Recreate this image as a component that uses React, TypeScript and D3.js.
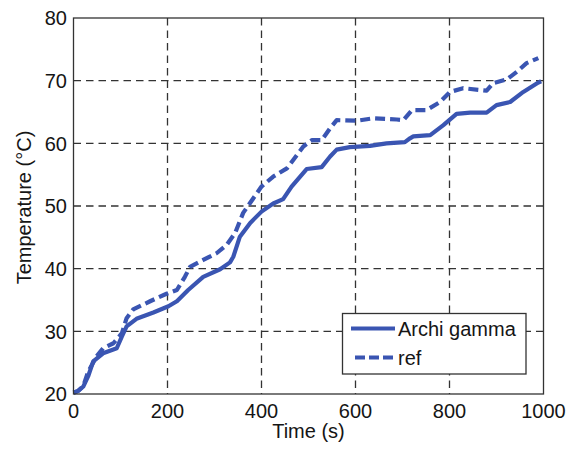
import React from "react";
import * as d3 from "d3";

const xTicks = [0, 200, 400, 600, 800, 1000];
const yTicks = [20, 30, 40, 50, 60, 70, 80];
const seriesNames = ["Archi gamma", "ref"];

const archiTime = [0, 10, 21, 31, 42, 63, 92, 103, 113, 134, 170, 202, 220, 244, 276, 312, 333, 340, 354, 376, 400, 425, 446, 464, 496, 528, 546, 560, 588, 631, 666, 705, 716, 723, 759, 787, 815, 844, 879, 900, 929, 957, 989, 995];
const archiTemp = [20.2, 20.5, 21.2, 22.8, 25.2, 26.5, 27.3, 29.2, 30.8, 32, 33, 34, 34.8, 36.6, 38.7, 39.9, 41.0, 41.9, 45.1, 47.3, 49.1, 50.4, 51.1, 53.1, 55.9, 56.2, 57.9, 59, 59.4, 59.6, 60, 60.2, 60.8, 61.1, 61.3, 62.9, 64.7, 64.9, 64.9, 66.1, 66.6, 68.2, 69.7, 69.9];

const refTime = [0, 10, 21, 31, 49, 63, 85, 103, 113, 127, 163, 198, 220, 237, 248, 276, 305, 326, 344, 361, 400, 425, 454, 489, 507, 528, 546, 560, 603, 638, 688, 702, 720, 751, 780, 801, 829, 879, 893, 922, 943, 964, 989];
const refTemp = [20.2, 20.5, 21.3, 23.5, 26, 27.3, 28.1, 29.7, 32.1, 33.5, 34.8, 36, 36.6, 38.7, 40.3, 41.4, 42.5, 43.8, 45.7, 48.9, 53.1, 54.7, 56, 59.5, 60.5, 60.5, 62.4, 63.7, 63.6, 64, 63.8, 63.7, 65.3, 65.3, 66.6, 68.2, 68.8, 68.4, 69.6, 70.2, 71.4, 72.8, 73.6];

const W = 576;
const H = 451;
const M = { left: 73.5, right: 543.5, top: 18, bottom: 394 };
const BLUE = "#3a55b2";
const TXT = "#151515";
const FS = 20;
const FONT = "'Liberation Sans', Arial, Helvetica, sans-serif";

export default function App() {
  const x = d3.scaleLinear().domain([0, 1000]).range([M.left, M.right]);
  const y = d3.scaleLinear().domain([20, 80]).range([M.bottom, M.top]);

  const line = d3
    .line<[number, number]>()
    .x((d) => x(d[0]))
    .y((d) => y(d[1]));

  const archi = archiTime.map((t, i) => [t, archiTemp[i]] as [number, number]);
  const ref = refTime.map((t, i) => [t, refTemp[i]] as [number, number]);

  const lx = 342.5;
  const ly = 313.5;
  const lw = 183.5;
  const lh = 60.5;

  return (
    <svg
      width={W}
      height={H}
      style={{ position: "absolute", left: 0, top: 0, background: "#fff", fontFamily: FONT }}
    >
      <rect x={0} y={0} width={W} height={H} fill="#fff" />
      {/* grid */}
      {xTicks.slice(1, -1).map((t) => (
        <line
          key={"gx" + t}
          x1={x(t)}
          x2={x(t)}
          y1={M.top}
          y2={M.bottom}
          stroke="#333"
          strokeWidth={1.3}
          strokeDasharray="7.5,5"
        />
      ))}
      {yTicks.slice(1, -1).map((t) => (
        <line
          key={"gy" + t}
          x1={M.left}
          x2={M.right}
          y1={y(t)}
          y2={y(t)}
          stroke="#333"
          strokeWidth={1.3}
          strokeDasharray="7.5,5"
        />
      ))}
      {/* series */}
      <path d={line(archi) || ""} fill="none" stroke={BLUE} strokeWidth={4.2} strokeLinejoin="round" />
      <path
        d={line(ref) || ""}
        fill="none"
        stroke={BLUE}
        strokeWidth={4.2}
        strokeDasharray="10,5"
        strokeLinejoin="round"
      />
      {/* box */}
      <rect
        x={M.left}
        y={M.top}
        width={M.right - M.left}
        height={M.bottom - M.top}
        fill="none"
        stroke="#333"
        strokeWidth={1.3}
      />
      {/* ticks */}
      {xTicks.map((t) => (
        <text key={"tx" + t} x={x(t)} y={M.bottom + 24} textAnchor="middle" fontSize={FS} fill={TXT}>
          {t}
        </text>
      ))}
      {yTicks.map((t) => (
        <text key={"ty" + t} x={M.left - 6.5} y={y(t) + 7.3} textAnchor="end" fontSize={FS} fill={TXT}>
          {t}
        </text>
      ))}
      <text x={(M.left + M.right) / 2} y={438} textAnchor="middle" fontSize={FS} fill={TXT}>
        Time (s)
      </text>
      <text
        transform={`translate(31, ${(M.top + M.bottom) / 2 + 1.5}) rotate(-90)`}
        textAnchor="middle"
        fontSize={FS}
        fill={TXT}
      >
        Temperature (°C)
      </text>
      {/* legend */}
      <rect x={lx} y={ly} width={lw} height={lh} fill="#fff" stroke="#333" strokeWidth={1.3} />
      <line x1={351} x2={395} y1={328.5} y2={328.5} stroke={BLUE} strokeWidth={4.2} />
      <line x1={355} x2={395} y1={357.5} y2={357.5} stroke={BLUE} strokeWidth={4.2} strokeDasharray="10,4" />
      <text x={398} y={336} fontSize={FS} fill={TXT}>
        {seriesNames[0]}
      </text>
      <text x={398} y={365} fontSize={FS} fill={TXT}>
        {seriesNames[1]}
      </text>
    </svg>
  );
}
